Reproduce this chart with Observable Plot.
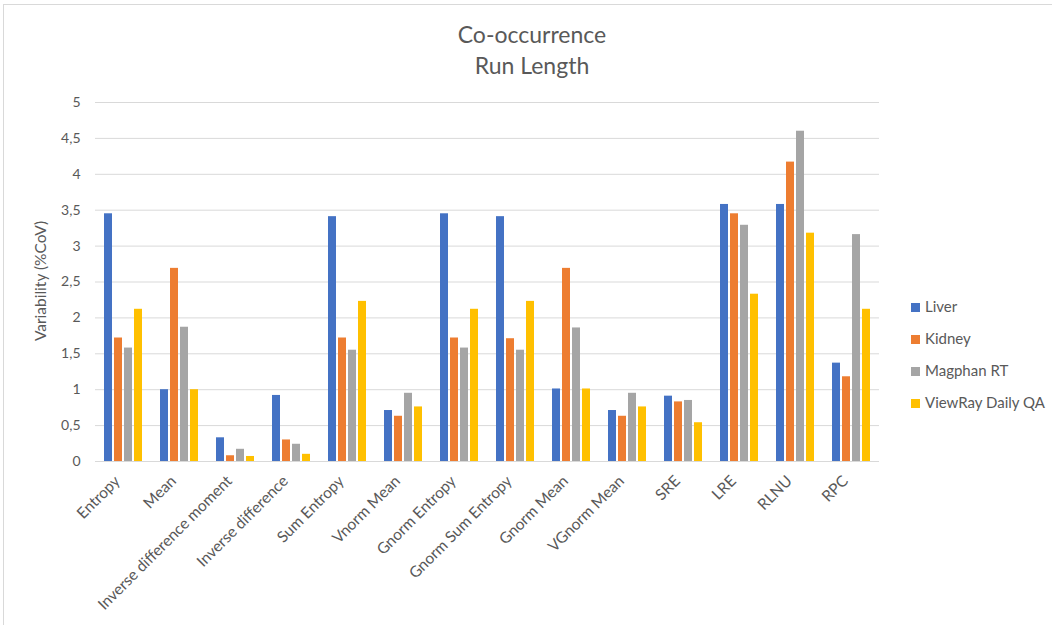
<!DOCTYPE html>
<html>
<head>
<meta charset="utf-8">
<script src="https://cdn.jsdelivr.net/npm/d3@7"></script>
<script src="https://cdn.jsdelivr.net/npm/@observablehq/plot@0.6"></script>
<style>
  html, body { margin: 0; padding: 0; background: #fff; }
  #wrap { position: relative; width: 1052px; height: 625px; overflow: hidden; font-family: Lato, "Open Sans", sans-serif; }
  #frame { position: absolute; left: 3px; top: 4px; width: 1060px; height: 640px; border: 1px solid #d9d9d9; box-sizing: border-box; }
  #title { position: absolute; left: 0; width: 1064px; top: 19px; text-align: center; color: #595959; font-size: 23px; line-height: 31px; }
  #legend { position: absolute; left: 911px; top: 297px; color: #595959; font-size: 15px; }
  #legend div { height: 32px; display: flex; align-items: flex-start; }
  #legend span.sw { display: inline-block; width: 9px; height: 9px; margin-right: 5px; margin-top: 6px; }
  #chart { position: absolute; left: 0; top: 0; }
</style>
</head>
<body>
<div id="wrap">
  <div id="frame"></div>
  <div id="chart"></div>
  <div id="title">Co-occurrence<br>Run Length</div>
  <div id="legend"></div>
</div>
<script>
const categories = ["Entropy", "Mean", "Inverse difference moment", "Inverse difference", "Sum Entropy", "Vnorm Mean", "Gnorm Entropy", "Gnorm Sum Entropy", "Gnorm Mean", "VGnorm Mean", "SRE", "LRE", "RLNU", "RPC"];
const series = ["Liver", "Kidney", "Magphan RT", "ViewRay Daily QA"];
const colors = ["#4472C4", "#ED7D31", "#A5A5A5", "#FFC000"];
const liver   = [3.45, 1.00, 0.33, 0.92, 3.41, 0.71, 3.45, 3.41, 1.01, 0.71, 0.91, 3.58, 3.58, 1.37];
const kidney  = [1.72, 2.69, 0.08, 0.30, 1.72, 0.63, 1.72, 1.71, 2.69, 0.63, 0.83, 3.45, 4.17, 1.18];
const magphan = [1.58, 1.87, 0.17, 0.24, 1.55, 0.95, 1.58, 1.55, 1.86, 0.95, 0.85, 3.29, 4.60, 3.16];
const viewray = [2.12, 1.00, 0.07, 0.10, 2.23, 0.76, 2.12, 2.23, 1.01, 0.76, 0.54, 2.33, 3.18, 2.12];
const yTicks = [0, 0.5, 1, 1.5, 2, 2.5, 3, 3.5, 4, 4.5, 5];

const valuesBySeries = [liver, kidney, magphan, viewray];
const data = [];
categories.forEach((c, i) => {
  series.forEach((s, j) => data.push({category: c, series: s, value: valuesBySeries[j][i]}));
});

const chart = Plot.plot({
  width: 1052,
  height: 625,
  marginTop: 102,
  marginBottom: 164,
  marginLeft: 91,
  marginRight: 170,
  style: {fontFamily: "Lato, 'Open Sans', sans-serif", color: "#595959", background: "transparent"},
  fx: {domain: categories, padding: 0, label: null, axis: null},
  x: {domain: series, axis: null, paddingInner: 0.22, paddingOuter: 0.85},
  y: {domain: [0, 5], ticks: yTicks, label: null, tickSize: 0, tickPadding: 15, tickFormat: d => String(d).replace(".", ",")},
  color: {domain: series, range: colors},
  marks: [
    Plot.gridY(yTicks, {stroke: "#d9d9d9", strokeOpacity: 1, strokeWidth: 1}),
    Plot.barY(data, {fx: "category", x: "series", y: "value", fill: "series"}),
    Plot.axisY(yTicks, {tickSize: 0, tickPadding: 15, fontSize: 14, tickFormat: d => String(d).replace(".", ","), label: null}),
    Plot.axisFx({anchor: "bottom", tickRotate: -45, tickSize: 0, tickPadding: 4, dx: -6, dy: 13, fontSize: 15.5, label: null})
  ]
});
document.getElementById("chart").appendChild(chart);

// Y axis title
const svg = d3.select(chart);
svg.append("text")
  .attr("transform", "translate(46,281) rotate(-90)")
  .attr("text-anchor", "middle")
  .attr("fill", "#595959")
  .attr("font-size", 15.5)
  .attr("font-family", "Lato, 'Open Sans', sans-serif")
  .text("Variability (%CoV)");

const legend = document.getElementById("legend");
series.forEach((s, j) => {
  const row = document.createElement("div");
  const sw = document.createElement("span");
  sw.className = "sw";
  sw.style.background = colors[j];
  row.appendChild(sw);
  row.appendChild(document.createTextNode(s));
  legend.appendChild(row);
});
</script>
</body>
</html>
